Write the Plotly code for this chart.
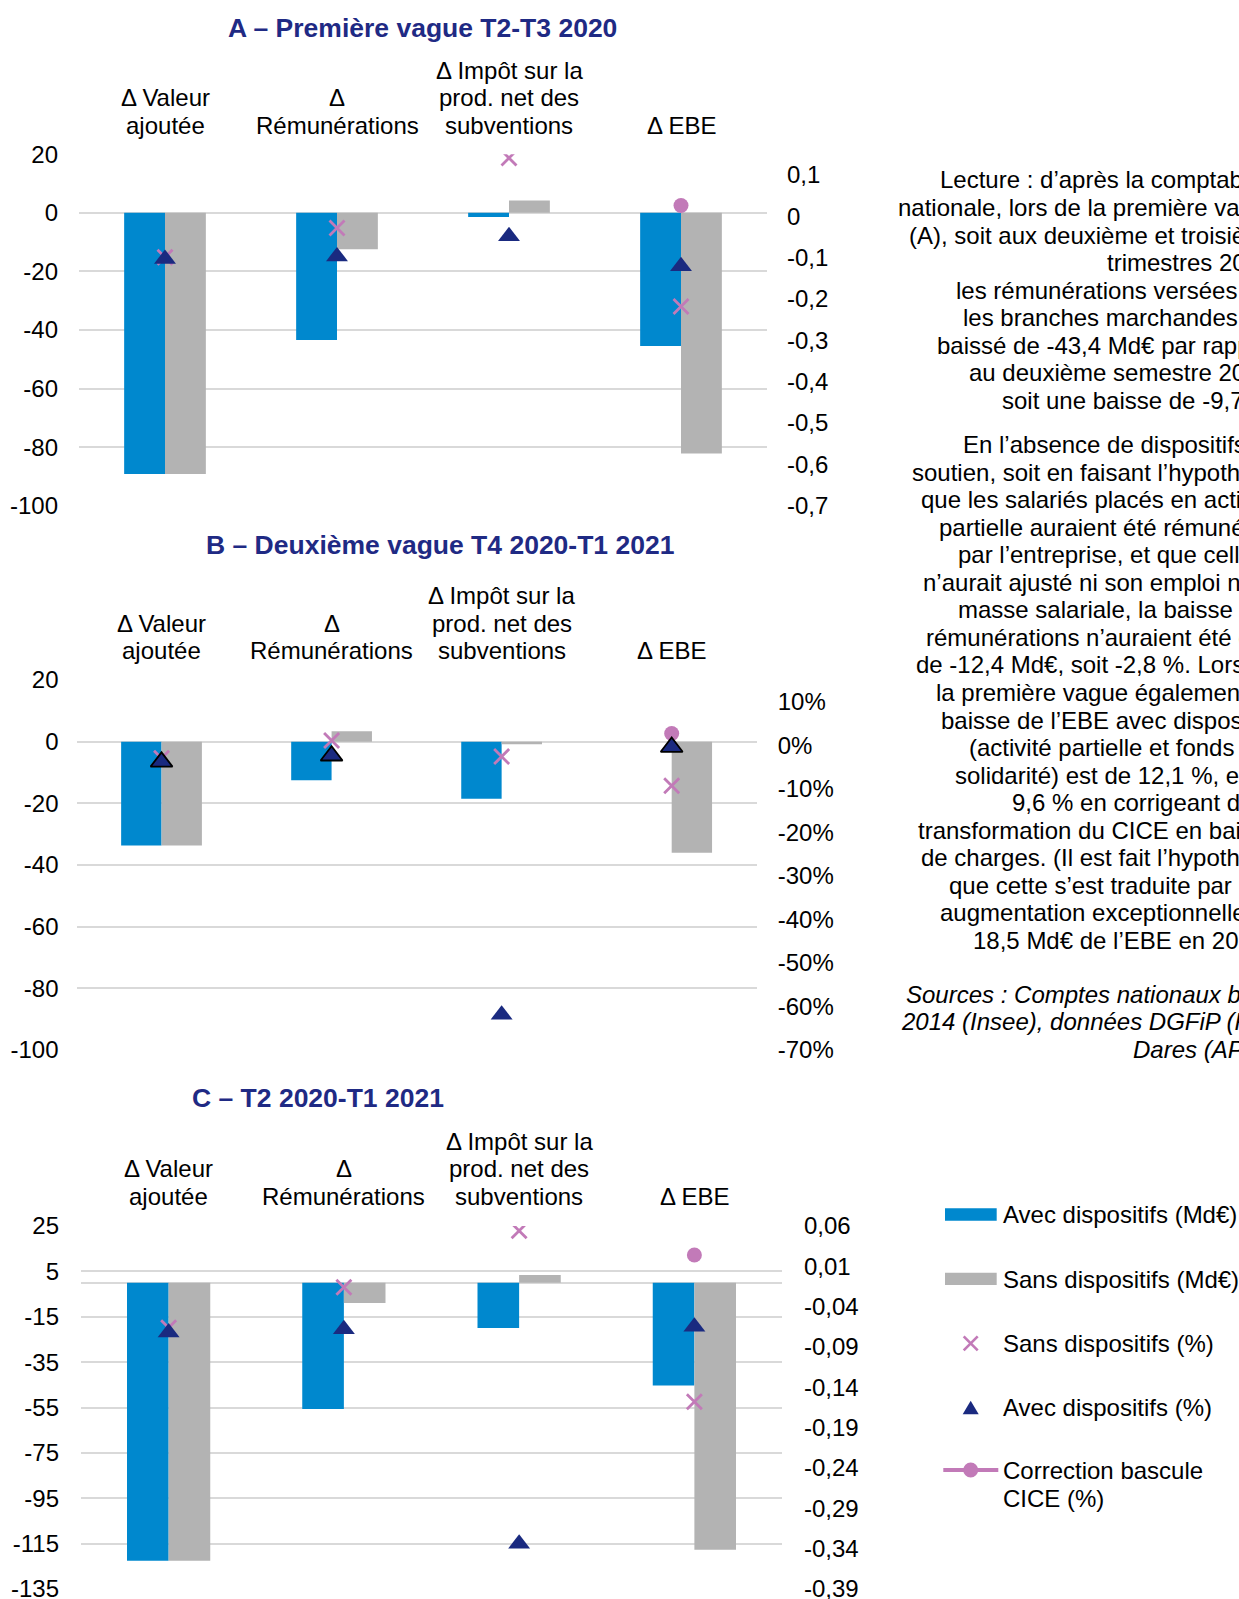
import plotly.graph_objects as go

W, H = 1239, 1599

# ---------------- data ----------------
categories = ["VA", "REM", "IMP", "EBE"]
category_lines = [["Δ Valeur", "ajoutée"],
                  ["Δ", "Rémunérations"],
                  ["Δ Impôt sur la", "prod. net des", "subventions"],
                  ["Δ EBE"]]

panel_titles = ["A – Première vague T2-T3 2020",
                "B – Deuxième vague T4 2020-T1 2021",
                "C – T2 2020-T1 2021"]

# Panel A (Md€ left axis, share right axis)
a_avec_md = [-89.2, -43.4, -1.4, -45.5]
a_sans_md = [-89.2, -12.4, 4.2, -82.2]
a_sans_pct = [-0.099, -0.028, 0.141, -0.218]
a_avec_pct = [-0.103, -0.097, -0.048, -0.121]
a_cice_pct = [None, None, None, 0.026]

# Panel B
b_avec_md = [-33.7, -12.5, -18.5, 0.0]
b_sans_md = [-33.7, 3.4, -0.8, -36.0]
b_sans_pct = [-0.030, 0.011, -0.026, -0.093]
b_avec_pct = [-0.038, -0.024, -0.619, -0.004]
b_cice_pct = [None, None, None, 0.027]

# Panel C
c_avec_md = [-122.6, -55.7, -20.0, -45.3]
c_sans_md = [-122.6, -8.9, 3.4, -117.7]
c_sans_pct = [-0.066, -0.016, 0.054, -0.158]
c_avec_pct = [-0.072, -0.068, -0.334, -0.065]
c_cice_pct = [None, None, None, 0.024]

# tick labels
left_tickvals_ab = [-100, -80, -60, -40, -20, 0, 20]
left_ticktext_ab = ["-100", "-80", "-60", "-40", "-20", "0", "20"]
left_tickvals_c = [-135, -115, -95, -75, -55, -35, -15, 5, 25]
left_ticktext_c = ["-135", "-115", "-95", "-75", "-55", "-35", "-15", "5", "25"]
right_tickvals_ab = [-0.7, -0.6, -0.5, -0.4, -0.3, -0.2, -0.1, 0.0, 0.1]
right_ticktext_a = ["-0,7", "-0,6", "-0,5", "-0,4", "-0,3", "-0,2", "-0,1", "0", "0,1"]
right_ticktext_b = ["-70%", "-60%", "-50%", "-40%", "-30%", "-20%", "-10%", "0%", "10%"]
right_tickvals_c = [-0.39, -0.34, -0.29, -0.24, -0.19, -0.14, -0.09, -0.04, 0.01, 0.06]
right_ticktext_c = ["-0,39", "-0,34", "-0,29", "-0,24", "-0,19", "-0,14", "-0,09", "-0,04", "0,01", "0,06"]

legend_labels = ["Avec dispositifs (Md€)", "Sans dispositifs (Md€)", "Sans dispositifs (%)",
                 "Avec dispositifs (%)", "Correction bascule<br>CICE (%)"]

note_lines_1 = ["Lecture : d’après la comptabilité",
                "nationale, lors de la première vague",
                "(A), soit aux deuxième et troisième",
                "trimestres 2020,",
                "les rémunérations versées par",
                "les branches marchandes ont",
                "baissé de -43,4 Md€ par rapport",
                "au deuxième semestre 2019,",
                "soit une baisse de -9,7 %."]
note_lines_2 = ["En l’absence de dispositifs de",
                "soutien, soit en faisant l’hypothèse",
                "que les salariés placés en activité",
                "partielle auraient été rémunérés",
                "par l’entreprise, et que celle-ci",
                "n’aurait ajusté ni son emploi ni sa",
                "masse salariale, la baisse des",
                "rémunérations n’auraient été que",
                "de -12,4 Md€, soit -2,8 %. Lors de",
                "la première vague également, la",
                "baisse de l’EBE avec dispositifs",
                "(activité partielle et fonds de",
                "solidarité) est de 12,1 %, et de",
                "9,6 % en corrigeant de la",
                "transformation du CICE en baisse",
                "de charges. (Il est fait l’hypothèse",
                "que cette s’est traduite par une",
                "augmentation exceptionnelle de",
                "18,5 Md€ de l’EBE en 2019.)"]
source_lines = ["Sources : Comptes nationaux base",
                "2014 (Insee), données DGFiP (FDS),",
                "Dares (AP)."]

# ---------------- styles ----------------
BLUE = "#0088CE"
GREY = "#B3B3B3"
PINK = "#C27AB8"
NAVY = "#1A2A80"
TITLE = "#1F2A84"
GRID = "#D9D9D9"
FONT = "Liberation Sans, Arial, sans-serif"

def py(p):
    return 1 - p / H

def px(p):
    return p / W

panels = [
    dict(x0=79, x1=767, y0=154.3, y1=505.7, lrange=[-100, 20], rrange=[-0.7, 0.15],
         ltv=left_tickvals_ab, ltt=left_ticktext_ab, rtv=right_tickvals_ab, rtt=right_ticktext_a,
         title=(422.6, 27.5), label_y=[70.4, 97.9, 125.4],
         data=(a_avec_md, a_sans_md, a_sans_pct, a_avec_pct, a_cice_pct),
         tri_line=[0, 0, 0, 0], lstand=20, rstand=19),
    dict(x0=76.5, x1=756.7, y0=680, y1=1050, lrange=[-100, 20], rrange=[-0.7, 0.15],
         ltv=left_tickvals_ab, ltt=left_ticktext_ab, rtv=right_tickvals_ab, rtt=right_ticktext_b,
         title=(440, 545), label_y=[596, 623.5, 651],
         data=(b_avec_md, b_sans_md, b_sans_pct, b_avec_pct, b_cice_pct),
         tri_line=[1.8, 1.8, 0, 1.8], lstand=17, rstand=20),
    dict(x0=81, x1=782, y0=1226, y1=1589, lrange=[-135, 25], rrange=[-0.39, 0.06],
         ltv=left_tickvals_c, ltt=left_ticktext_c, rtv=right_tickvals_c, rtt=right_ticktext_c,
         title=(318, 1098), label_y=[1141.2, 1168.7, 1196.2],
         data=(c_avec_md, c_sans_md, c_sans_pct, c_avec_pct, c_cice_pct),
         tri_line=[0, 0, 0, 0], lstand=21, rstand=21),
]

fig = go.Figure()
annotations = []
shapes = []
layout_axes = {}

for i, p in enumerate(panels):
    xn = "" if i == 0 else str(i + 1)
    yl = "" if i == 0 else str(2 * i + 1)
    yr = str(2 * i + 2)
    xref = "x" + xn
    ylref = "y" + yl
    yrref = "y" + yr
    avec_md, sans_md, sans_pct, avec_pct, cice = p["data"]

    fig.add_trace(go.Bar(x=categories, y=avec_md, name=legend_labels[0], marker=dict(color=BLUE, line=dict(width=0)),
                         xaxis=xref, yaxis=ylref, showlegend=False))
    fig.add_trace(go.Bar(x=categories, y=sans_md, name=legend_labels[1], marker=dict(color=GREY, line=dict(width=0)),
                         xaxis=xref, yaxis=ylref, showlegend=False))
    fig.add_trace(go.Scatter(x=categories, y=cice, name="Correction bascule CICE (%)", mode="lines+markers",
                             line=dict(color=PINK, width=4), marker=dict(symbol="circle", size=15, color=PINK),
                             xaxis=xref, yaxis=yrref, showlegend=False))
    fig.add_trace(go.Scatter(x=categories, y=sans_pct, name=legend_labels[2], mode="markers",
                             marker=dict(symbol="x-thin", size=15, color=PINK, line=dict(color=PINK, width=2.8)),
                             xaxis=xref, yaxis=yrref, showlegend=False))
    fig.add_trace(go.Scatter(x=categories, y=avec_pct, name=legend_labels[3], mode="markers",
                             marker=dict(symbol="triangle-up", size=19, color=NAVY,
                                         line=dict(color="black", width=p["tri_line"])),
                             xaxis=xref, yaxis=yrref, showlegend=False))

    xkey = "xaxis" + xn
    ylkey = "yaxis" + yl
    yrkey = "yaxis" + yr
    layout_axes[xkey] = dict(domain=[px(p["x0"]), px(p["x1"])], anchor=ylref, showgrid=False, showline=False,
                             zeroline=False, showticklabels=False, ticks="", automargin=False,
                             categoryorder="array", categoryarray=categories)
    layout_axes[ylkey] = dict(domain=[py(p["y1"]), py(p["y0"])], anchor=xref, range=p["lrange"],
                              tickmode="array", tickvals=p["ltv"], ticktext=p["ltt"],
                              showgrid=True, gridcolor=GRID, gridwidth=2,
                              zeroline=True, zerolinecolor=GRID, zerolinewidth=2, automargin=False,
                              showline=False, ticks="", ticklabelstandoff=p["lstand"],
                              ticklabeloverflow="allow",
                              tickfont=dict(size=24, color="black", family=FONT))
    layout_axes[yrkey] = dict(overlaying=ylref, side="right", anchor=xref, range=p["rrange"],
                              tickmode="array", tickvals=p["rtv"], ticktext=p["rtt"],
                              showgrid=False, zeroline=False, showline=False, ticks="", automargin=False,
                              ticklabelstandoff=p["rstand"], ticklabeloverflow="allow",
                              tickfont=dict(size=24, color="black", family=FONT))

    # panel title
    annotations.append(dict(text="<b>" + panel_titles[i] + "</b>", xref="paper", yref="paper",
                            x=px(p["title"][0]), y=py(p["title"][1]), xanchor="center", yanchor="middle",
                            showarrow=False, font=dict(size=26.5, color=TITLE, family=FONT)))
    # category labels on top
    for c, lines in zip(categories, category_lines):
        n = len(lines)
        for j, line in enumerate(lines):
            annotations.append(dict(text=line, xref=xref, yref="paper", x=c,
                                    y=py(p["label_y"][3 - n + j]), xanchor="center", yanchor="middle",
                                    showarrow=False, font=dict(size=24, color="black", family=FONT)))

# ---------------- notes (right column) ----------------
note_x_1 = [940, 897.7, 909.3, 1106.7, 956, 963.3, 937.3, 969, 1002.3]
note_x_2 = [962.7, 912, 921, 939.3, 958.3, 923.3, 958.3, 926, 916, 935.7, 940.7, 969, 954.7,
            1011.7, 918.3, 921, 948.7, 940, 973.3]
note_x_3 = [906, 900.7, 1132.7]
step = 27.54
for k, (t, x) in enumerate(zip(note_lines_1, note_x_1)):
    annotations.append(dict(text=t, xref="paper", yref="paper", x=px(x - 2), y=py(180 + k * step),
                            xanchor="left", yanchor="middle", showarrow=False,
                            font=dict(size=24, color="black", family=FONT)))
for k, (t, x) in enumerate(zip(note_lines_2, note_x_2)):
    annotations.append(dict(text=t, xref="paper", yref="paper", x=px(x - 2), y=py(444.6 + k * step),
                            xanchor="left", yanchor="middle", showarrow=False,
                            font=dict(size=24, color="black", family=FONT)))
for k, (t, x) in enumerate(zip(source_lines, note_x_3)):
    annotations.append(dict(text="<i>" + t + "</i>", xref="paper", yref="paper", x=px(x - 2),
                            y=py(994.3 + k * step), xanchor="left", yanchor="middle", showarrow=False,
                            font=dict(size=24, color="black", family=FONT)))

# ---------------- legend (drawn) ----------------
leg_text_x = 1000.5
leg_y = [1214.7, 1279, 1343.3, 1407.7, 1470]
for lbl, yy in zip(legend_labels, leg_y):
    lines = lbl.split("<br>")
    for j, line in enumerate(lines):
        annotations.append(dict(text=line, xref="paper", yref="paper", x=px(leg_text_x),
                                y=py(yy + j * 28.3), xanchor="left", yanchor="middle", showarrow=False,
                                font=dict(size=24, color="black", family=FONT)))

def rect(x0, y0, x1, y1, color):
    return dict(type="rect", xref="paper", yref="paper", x0=px(x0), x1=px(x1), y0=py(y1), y1=py(y0),
                fillcolor=color, line=dict(width=0), layer="above")

shapes.append(rect(945, 1208.3, 996.7, 1220.7, BLUE))
shapes.append(rect(945, 1272.7, 996.7, 1285, GREY))
cx, cy, r = 970.7, 1343.3, 7
shapes.append(dict(type="line", xref="paper", yref="paper", x0=px(cx - r), y0=py(cy - r), x1=px(cx + r),
                   y1=py(cy + r), line=dict(color=PINK, width=2.6)))
shapes.append(dict(type="line", xref="paper", yref="paper", x0=px(cx - r), y0=py(cy + r), x1=px(cx + r),
                   y1=py(cy - r), line=dict(color=PINK, width=2.6)))
tx, ty = 970.7, 1407.7
shapes.append(dict(type="path", xref="paper", yref="paper",
                   path="M {:.5f} {:.5f} L {:.5f} {:.5f} L {:.5f} {:.5f} Z".format(
                       px(tx - 8), py(ty + 6.5), px(tx + 8), py(ty + 6.5), px(tx), py(ty - 7)),
                   fillcolor=NAVY, line=dict(width=0)))
shapes.append(dict(type="line", xref="paper", yref="paper", x0=px(943.3), y0=py(1470), x1=px(998.3),
                   y1=py(1470), line=dict(color=PINK, width=4)))
shapes.append(dict(type="circle", xref="paper", yref="paper", x0=px(970.7 - 7.5), x1=px(970.7 + 7.5),
                   y0=py(1470 + 7.5), y1=py(1470 - 7.5), fillcolor=PINK, line=dict(width=0)))

fig.update_layout(
    width=W, height=H,
    autosize=False,
    margin=dict(l=0, r=0, t=0, b=0, pad=0, autoexpand=False),
    paper_bgcolor="white", plot_bgcolor="white",
    barmode="group", bargap=0.525, bargroupgap=0,
    showlegend=False,
    font=dict(family=FONT, size=24, color="black"),
    annotations=annotations,
    shapes=shapes,
    **layout_axes,
)

fig.write_html("out.html", config={"displayModeBar": False},
               post_script="document.body.style.margin='0px';document.body.style.overflow='hidden';")
